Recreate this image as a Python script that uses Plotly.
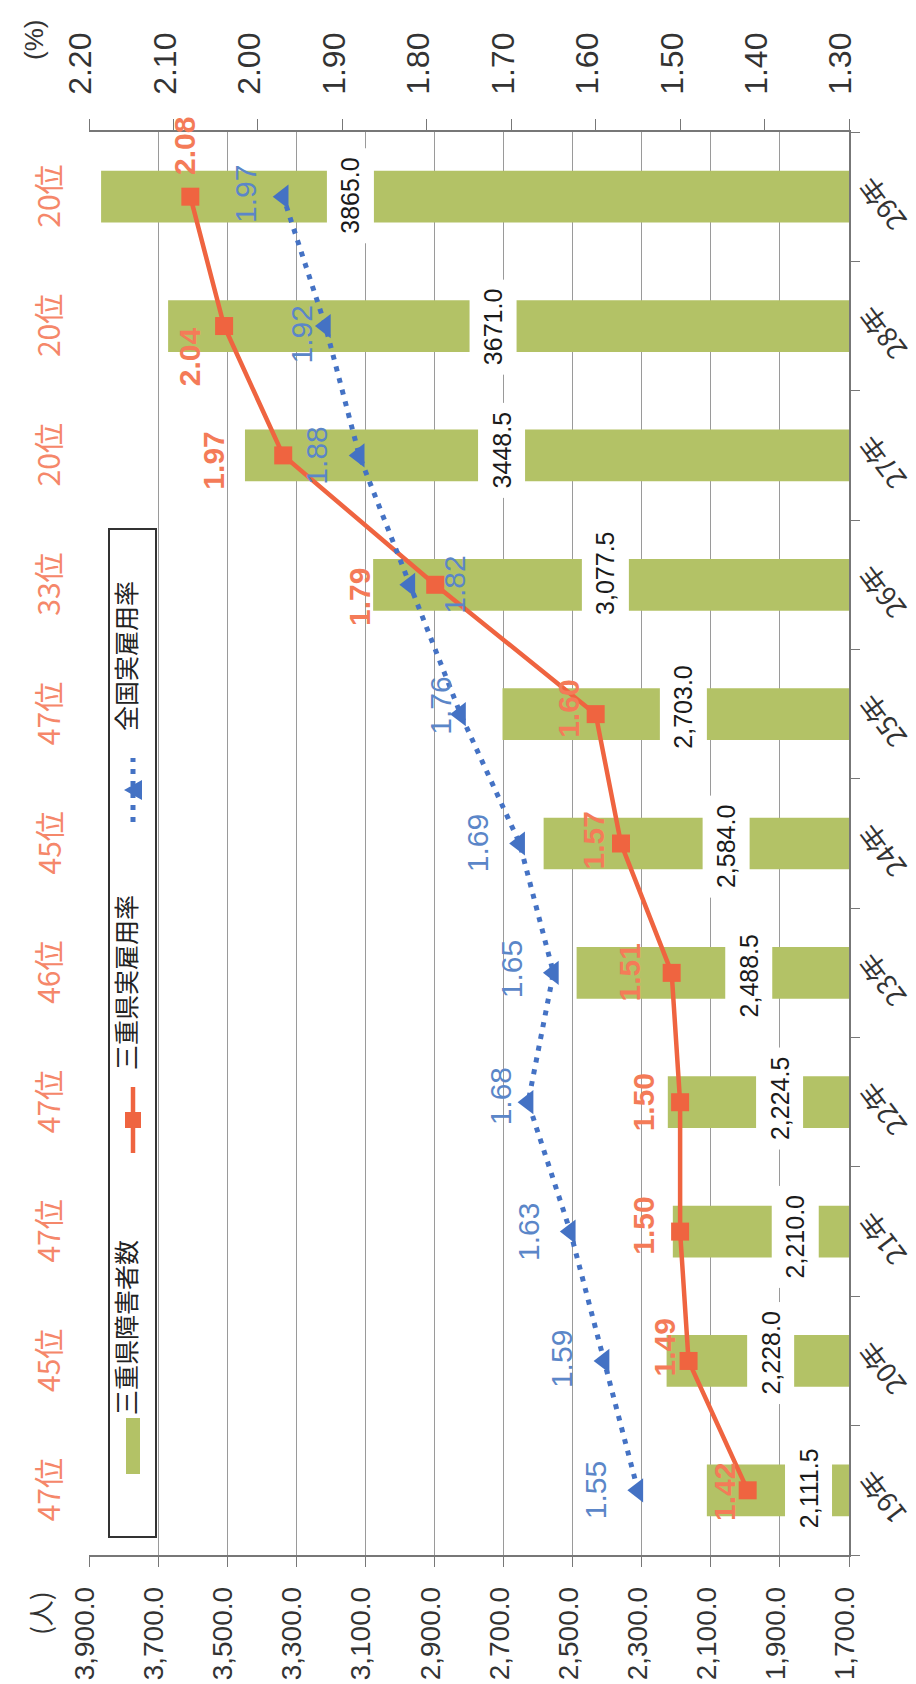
import plotly.graph_objects as go

# ---------------- data ----------------
years = ["19年", "20年", "21年", "22年", "23年", "24年", "25年", "26年", "27年", "28年", "29年"]
mie_count = [2111.5, 2228.0, 2210.0, 2224.5, 2488.5, 2584.0, 2703.0, 3077.5, 3448.5, 3671.0, 3865.0]
count_labels = ["2,111.5", "2,228.0", "2,210.0", "2,224.5", "2,488.5", "2,584.0",
                "2,703.0", "3,077.5", "3448.5", "3671.0", "3865.0"]
mie_rate = [1.42, 1.49, 1.50, 1.50, 1.51, 1.57, 1.60, 1.79, 1.97, 2.04, 2.08]
national_rate = [1.55, 1.59, 1.63, 1.68, 1.65, 1.69, 1.76, 1.82, 1.88, 1.92, 1.97]
ranks = ["47位", "45位", "47位", "47位", "46位", "45位", "47位", "33位", "20位", "20位", "20位"]

# ---------------- label offsets (pixels) ----------------
mie_dx = [-23, -24, -37, -37, -42, -28, -28, -75, -70, -35, -6]
mie_dy = [-2, 13, 6, 0, 0, 3, 5, -12, -5, -31, 51]
nat_dx = [-43, -42, -42, -28, -42, -42, -20, 45, -43, -24, -38]
nat_dy = [0, 2, 0, 6, 4, 0, 8, 0, 0, -8, 3]
cnt_dx = [102, 104, 122, 112, 172, 182, 181, 232, 257, 325, 249]
cnt_dy = [2, 8, -5, 4, -3, -3, 7, 11, 5, -1, 1]

# ---------------- styles ----------------
W, H = 916, 1684
L, R, T, B = 81, 75, 124, 137
BAR_C = "#B3C266"
ORANGE = "#EF6440"
ORANGE_TXT = "#F47B58"
BLUE = "#4472C4"
BLUE_TXT = "#5B86C8"
NUM_FONT = "Liberation Sans, Arial, Noto Sans CJK JP"
CJK_FONT = "Noto Sans CJK JP, Liberation Sans"

pw, ph = W - L - R, H - T - B


def px(xp):
    return (xp - L) / pw


def py(yp):
    return (H - B - yp) / ph


fig = go.Figure()

fig.add_trace(go.Bar(
    x=mie_count, y=years, orientation="h", marker=dict(color=BAR_C, line=dict(width=0)),
    name="三重県障害者数", xaxis="x", yaxis="y", showlegend=False,
))
fig.add_trace(go.Scatter(
    x=mie_rate, y=years, mode="lines+markers", name="三重県実雇用率",
    line=dict(color=ORANGE, width=4.5),
    marker=dict(symbol="square", size=18, color=ORANGE),
    xaxis="x2", yaxis="y", showlegend=False, cliponaxis=False,
))
fig.add_trace(go.Scatter(
    x=national_rate, y=years, mode="lines+markers", name="全国実雇用率",
    line=dict(color=BLUE, width=5, dash="5px,7px"),
    marker=dict(symbol="triangle-left", size=21, color=BLUE),
    xaxis="x2", yaxis="y", showlegend=False, cliponaxis=False,
))

C = dict(xanchor="center", yanchor="middle", showarrow=False, textangle=-90)

ann = []
for i, yr in enumerate(years):
    ann.append(dict(x=mie_count[i], y=yr, xref="x", yref="y", text=count_labels[i],
                    xshift=cnt_dx[i], yshift=cnt_dy[i], bgcolor="white", borderpad=9,
                    font=dict(family=NUM_FONT, size=25, color="#1a1a1a"), **C))
    ann.append(dict(x=mie_rate[i], y=yr, xref="x2", yref="y", text=f"<b>{mie_rate[i]:.2f}</b>",
                    xshift=mie_dx[i], yshift=mie_dy[i],
                    font=dict(family=NUM_FONT, size=30, color=ORANGE_TXT), **C))
    ann.append(dict(x=national_rate[i], y=yr, xref="x2", yref="y", text=f"{national_rate[i]:.2f}",
                    xshift=nat_dx[i], yshift=nat_dy[i],
                    font=dict(family=NUM_FONT, size=30, color=BLUE_TXT), **C))
    ann.append(dict(x=px(39), y=yr, xref="paper", yref="y", text=ranks[i],
                    font=dict(family=CJK_FONT, size=30, color="#F5876A"), **C))
    # category (year) labels, rotated as in the source
    ann.append(dict(x=px(874), y=yr, xref="paper", yref="y", text=yr, yshift=-8,
                    xanchor="center", yanchor="middle", showarrow=False, textangle=-127,
                    font=dict(family=CJK_FONT, size=27, color="#333")))

ann.append(dict(x=px(26), y=py(32), xref="paper", yref="paper", text="(%)",
                font=dict(family=NUM_FONT, size=26, color="#333"), **C))
ann.append(dict(x=px(31), y=py(1605), xref="paper", yref="paper", text="(人)",
                font=dict(family=CJK_FONT, size=26, color="#333"), **C))

# legend (drawn manually, rotated)
shapes = []
shapes.append(dict(type="rect", xref="paper", yref="paper", x0=px(101), x1=px(148), y0=py(1529), y1=py(521),
                   line=dict(color="#333", width=2), fillcolor="white", layer="above"))
shapes.append(dict(type="rect", xref="paper", yref="paper", x0=px(118), x1=px(132), y0=py(1466), y1=py(1410),
                   line=dict(width=0), fillcolor=BAR_C, layer="above"))
shapes.append(dict(type="line", xref="paper", yref="paper", x0=px(125), x1=px(125), y0=py(1145), y1=py(1079),
                   line=dict(color=ORANGE, width=4.5), layer="above"))
shapes.append(dict(type="rect", xref="paper", yref="paper", x0=px(117), x1=px(133), y0=py(1120), y1=py(1104),
                   line=dict(width=0), fillcolor=ORANGE, layer="above"))
shapes.append(dict(type="line", xref="paper", yref="paper", x0=px(125), x1=px(125), y0=py(814), y1=py(750),
                   line=dict(color=BLUE, width=5, dash="5px,7px"), layer="above"))
shapes.append(dict(type="path", xref="paper", yref="paper",
                   path=f"M {px(116)} {py(782)} L {px(134)} {py(772)} L {px(134)} {py(792)} Z",
                   line=dict(width=0), fillcolor=BLUE, layer="above"))
for txt, yc in [("三重県障害者数", 1320), ("三重県実雇用率", 975), ("全国実雇用率", 648)]:
    ann.append(dict(x=px(117), y=py(yc), xref="paper", yref="paper", text=txt,
                    font=dict(family=CJK_FONT, size=25, color="#222"), **C))

fig.update_layout(
    width=W, height=H,
    margin=dict(l=L, r=R, t=T, b=B),
    paper_bgcolor="white", plot_bgcolor="white",
    bargap=0.6,
    showlegend=False,
    xaxis=dict(range=[3900, 1700], tick0=1700, dtick=200, tickformat=",.1f", tickangle=-90,
               showgrid=True, gridcolor="#9a9a9a", gridwidth=1,
               showline=True, linecolor="#777", linewidth=1.5,
               ticks="outside", ticklen=10, tickcolor="#777",
               ticklabelstandoff=9, ticklabelshift=4,
               tickfont=dict(family=NUM_FONT, size=28, color="#333"),
               zeroline=False),
    xaxis2=dict(range=[2.20, 1.30], tick0=1.3, dtick=0.1, tickformat=".2f", tickangle=-90,
                overlaying="x", side="top", showgrid=False,
                showline=True, linecolor="#777", linewidth=1.5,
                ticks="outside", ticklen=11, tickcolor="#777",
                ticklabelstandoff=18, ticklabelshift=8,
                tickfont=dict(family=NUM_FONT, size=32, color="#333"),
                zeroline=False),
    yaxis=dict(side="right", type="category", categoryorder="array", categoryarray=years,
               range=[-0.5, len(years) - 0.5], autorange=False,
               showgrid=False, showline=True, linecolor="#777", linewidth=1.5,
               ticks="outside", tickson="boundaries", ticklen=9, tickcolor="#777",
               showticklabels=False),
    annotations=ann,
    shapes=shapes,
)

fig.write_html("out.html")
